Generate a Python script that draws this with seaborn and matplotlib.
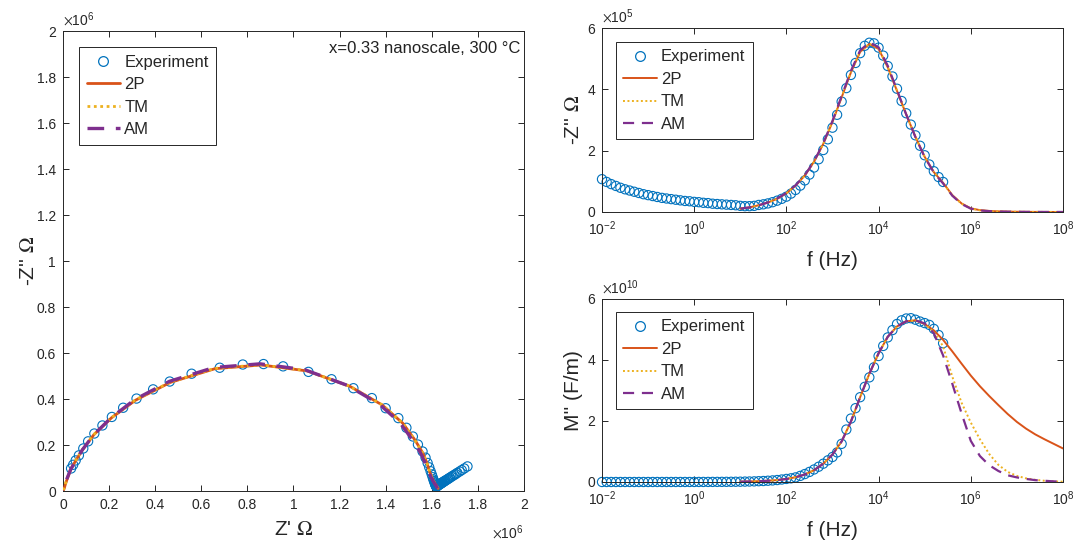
import matplotlib
matplotlib.use("Agg")
import matplotlib.pyplot as plt
import seaborn as sns
import pandas as pd
from matplotlib.lines import Line2D
from matplotlib.ticker import FuncFormatter, FixedLocator, NullLocator, LogFormatterMathtext

# ---------------- data ----------------
# measured frequencies (Hz)
freq_exp = [
    1.00e-2, 1.26e-2, 1.58e-2, 2.00e-2, 2.51e-2, 3.16e-2, 3.98e-2, 5.01e-2, 6.31e-2, 7.94e-2,
    1.00e-1, 1.26e-1, 1.58e-1, 2.00e-1, 2.51e-1, 3.16e-1, 3.98e-1, 5.01e-1, 6.31e-1, 7.94e-1,
    1.00e0, 1.26e0, 1.58e0, 2.00e0, 2.51e0, 3.16e0, 3.98e0, 5.01e0, 6.31e0, 7.94e0,
    1.00e1, 1.26e1, 1.58e1, 2.00e1, 2.51e1, 3.16e1, 3.98e1, 5.01e1, 6.31e1, 7.94e1,
    1.00e2, 1.26e2, 1.58e2, 2.00e2, 2.51e2, 3.16e2, 3.98e2, 5.01e2, 6.31e2, 7.94e2,
    1.00e3, 1.26e3, 1.58e3, 2.00e3, 2.51e3, 3.16e3, 3.98e3, 5.01e3, 6.31e3, 7.94e3,
    1.00e4, 1.26e4, 1.58e4, 2.00e4, 2.51e4, 3.16e4, 3.98e4, 5.01e4, 6.31e4, 7.94e4,
    1.00e5, 1.26e5, 1.58e5, 2.00e5, 2.51e5]
# Z' (MOhm)
zre_exp = [
    1.755, 1.741, 1.730, 1.721, 1.711, 1.704, 1.698, 1.691, 1.685, 1.679,
    1.674, 1.670, 1.665, 1.660, 1.657, 1.654, 1.651, 1.648, 1.645, 1.643,
    1.640, 1.639, 1.636, 1.634, 1.631, 1.629, 1.628, 1.626, 1.625, 1.623,
    1.622, 1.621, 1.620, 1.619, 1.618, 1.617, 1.615, 1.614, 1.612, 1.610,
    1.607, 1.604, 1.600, 1.595, 1.589, 1.582, 1.573, 1.560, 1.540, 1.518,
    1.490, 1.455, 1.400, 1.340, 1.260, 1.165, 1.065, 0.955, 0.870, 0.780,
    0.680, 0.558, 0.463, 0.391, 0.319, 0.261, 0.212, 0.171, 0.136, 0.109,
    0.088, 0.069, 0.055, 0.044, 0.035]
# -Z'' (MOhm)
zim_exp = [
    0.107, 0.098, 0.091, 0.085, 0.079, 0.074, 0.070, 0.066, 0.062, 0.058,
    0.055, 0.052, 0.049, 0.046, 0.044, 0.042, 0.040, 0.038, 0.036, 0.035,
    0.033, 0.032, 0.030, 0.029, 0.027, 0.026, 0.025, 0.024, 0.023, 0.022,
    0.020, 0.019, 0.019, 0.020, 0.023, 0.025, 0.028, 0.032, 0.037, 0.043,
    0.050, 0.060, 0.072, 0.086, 0.103, 0.122, 0.145, 0.172, 0.202, 0.237,
    0.275, 0.317, 0.360, 0.404, 0.447, 0.486, 0.518, 0.542, 0.552, 0.550,
    0.536, 0.510, 0.476, 0.442, 0.402, 0.362, 0.322, 0.285, 0.250, 0.216,
    0.185, 0.155, 0.133, 0.114, 0.098]
# M'' (1e10 F/m)
mim_exp = [
    0.0000, 0.0000, 0.0000, 0.0000, 0.0000, 0.0000, 0.0000, 0.0000, 0.0000, 0.0000,
    0.0001, 0.0001, 0.0002, 0.0002, 0.0003, 0.0003, 0.0004, 0.0005, 0.0007, 0.0008,
    0.0010, 0.0013, 0.0016, 0.0021, 0.0026, 0.0032, 0.0041, 0.0051, 0.0065, 0.0081,
    0.010, 0.013, 0.016, 0.020, 0.026, 0.032, 0.041, 0.051, 0.064, 0.081,
    0.10, 0.12, 0.15, 0.20, 0.26, 0.33, 0.41, 0.50, 0.60, 0.71,
    0.82, 0.97, 1.25, 1.72, 2.08, 2.42, 2.78, 3.12, 3.43, 3.76,
    4.13, 4.46, 4.74, 4.98, 5.18, 5.30, 5.36, 5.37, 5.32, 5.26,
    5.21, 5.15, 5.02, 4.82, 4.55]

# model frequencies (Hz)
freq_fit = [
    1.00e1, 1.58e1, 2.51e1, 3.98e1, 6.31e1,
    1.00e2, 1.58e2, 2.51e2, 3.98e2, 6.31e2,
    1.00e3, 1.58e3, 2.51e3, 3.98e3, 6.31e3,
    1.00e4, 1.58e4, 2.51e4, 3.98e4, 6.31e4,
    1.00e5, 1.58e5, 2.51e5, 3.98e5, 6.31e5,
    1.00e6, 1.58e6, 2.51e6, 3.98e6, 6.31e6,
    1.00e7, 1.58e7, 2.51e7, 3.98e7, 6.31e7, 1.00e8]

zre_2p = [1.628, 1.625, 1.621, 1.615, 1.608, 1.600, 1.590, 1.580, 1.562, 1.527,
          1.475, 1.385, 1.245, 1.060, 0.860, 0.660, 0.465, 0.315, 0.210, 0.134,
          0.085, 0.054, 0.034, 0.019, 0.010, 0.0055, 0.0033, 0.0022, 0.0015, 0.0010,
          0.0007, 0.0005, 0.0003, 0.0002, 0.0001, 0.0000]
zim_2p = [0.011, 0.015, 0.022, 0.031, 0.043, 0.061, 0.086, 0.119, 0.164, 0.222,
          0.294, 0.374, 0.455, 0.522, 0.548, 0.532, 0.472, 0.395, 0.318, 0.245,
          0.180, 0.130, 0.095, 0.055, 0.028, 0.012, 0.0060, 0.0035, 0.0020, 0.0012,
          0.0008, 0.0005, 0.0003, 0.0002, 0.0001, 0.0001]
mim_2p = [0.010, 0.016, 0.026, 0.040, 0.062, 0.098, 0.155, 0.245, 0.385, 0.60,
          0.90, 1.33, 1.98, 2.78, 3.55, 4.22, 4.76, 5.10, 5.27, 5.30,
          5.18, 4.97, 4.66, 4.28, 3.88, 3.49, 3.14, 2.82, 2.52, 2.23,
          1.97, 1.75, 1.56, 1.40, 1.25, 1.10]

zre_tm = [1.628, 1.625, 1.621, 1.615, 1.608, 1.600, 1.591, 1.580, 1.561, 1.526,
          1.474, 1.384, 1.244, 1.058, 0.858, 0.658, 0.464, 0.314, 0.209, 0.133,
          0.084, 0.053, 0.033, 0.018, 0.009, 0.0040, 0.0020, 0.0010, 0.0005, 0.0003,
          0.0002, 0.0001, 0.0001, 0.0000, 0.0000, 0.0000]
zim_tm = [0.011, 0.015, 0.022, 0.031, 0.043, 0.061, 0.086, 0.119, 0.164, 0.222,
          0.295, 0.375, 0.456, 0.523, 0.549, 0.533, 0.473, 0.396, 0.318, 0.245,
          0.180, 0.130, 0.094, 0.054, 0.027, 0.011, 0.0055, 0.0030, 0.0018, 0.0011,
          0.0007, 0.0004, 0.0003, 0.0002, 0.0001, 0.0001]
mim_tm = [0.010, 0.016, 0.026, 0.040, 0.062, 0.098, 0.155, 0.245, 0.385, 0.60,
          0.90, 1.33, 1.98, 2.78, 3.55, 4.22, 4.76, 5.10, 5.27, 5.30,
          5.18, 4.92, 4.45, 3.45, 2.60, 1.95, 1.40, 0.92, 0.56, 0.33,
          0.20, 0.12, 0.07, 0.04, 0.02, 0.01]

zre_am = [1.626, 1.623, 1.619, 1.613, 1.605, 1.596, 1.585, 1.572, 1.552, 1.515,
          1.462, 1.372, 1.232, 1.050, 0.855, 0.655, 0.462, 0.312, 0.208, 0.133,
          0.084, 0.053, 0.033, 0.017, 0.008, 0.0035, 0.0018, 0.0009, 0.0005, 0.0003,
          0.0002, 0.0001, 0.0001, 0.0000, 0.0000, 0.0000]
zim_am = [0.011, 0.015, 0.022, 0.031, 0.044, 0.062, 0.087, 0.120, 0.165, 0.224,
          0.297, 0.378, 0.460, 0.527, 0.553, 0.537, 0.477, 0.398, 0.318, 0.244,
          0.179, 0.129, 0.093, 0.053, 0.026, 0.011, 0.0050, 0.0028, 0.0016, 0.0010,
          0.0006, 0.0004, 0.0002, 0.0001, 0.0001, 0.0001]
mim_am = [0.010, 0.016, 0.026, 0.040, 0.062, 0.098, 0.155, 0.245, 0.385, 0.60,
          0.90, 1.33, 1.98, 2.78, 3.55, 4.22, 4.76, 5.10, 5.27, 5.30,
          5.20, 4.88, 4.15, 3.22, 2.25, 1.35, 0.85, 0.55, 0.36, 0.22,
          0.15, 0.10, 0.06, 0.04, 0.02, 0.01]

series_names = ["Experiment", "2P", "TM", "AM"]
annotation = "x=0.33 nanoscale, 300 °C"

# ---------------- styling ----------------
sns.set_style("ticks")
plt.rcParams["font.family"] = ["Liberation Sans", "DejaVu Sans"]
plt.rcParams["mathtext.fontset"] = "stix"

C_EXP = "#0072BD"
C_2P = "#D95319"
C_TM = "#EDB120"
C_AM = "#7E2F8E"
AXC = "#262626"

exp_df = pd.DataFrame({"f": freq_exp, "zre": [v * 1e6 for v in zre_exp],
                       "zim": [v * 1e6 for v in zim_exp], "mim": [v * 1e10 for v in mim_exp]})
fits = {
    "2P": pd.DataFrame({"f": freq_fit, "zre": [v * 1e6 for v in zre_2p],
                        "zim": [v * 1e6 for v in zim_2p], "mim": [v * 1e10 for v in mim_2p]}),
    "TM": pd.DataFrame({"f": freq_fit, "zre": [v * 1e6 for v in zre_tm],
                        "zim": [v * 1e6 for v in zim_tm], "mim": [v * 1e10 for v in mim_tm]}),
    "AM": pd.DataFrame({"f": freq_fit, "zre": [v * 1e6 for v in zre_am],
                        "zim": [v * 1e6 for v in zim_am], "mim": [v * 1e10 for v in mim_am]}),
}


def fit_styles(big):
    lw = 2.0 if big else 1.4
    return {
        "2P": dict(color=C_2P, lw=lw, ls="-"),
        "TM": dict(color=C_TM, lw=lw, ls=(0, (1.0, 1.3))),
        "AM": dict(color=C_AM, lw=lw + 0.4 if big else lw + 0.2, ls=(0, (5, 3.5))),
    }


fig = plt.figure(figsize=(10.75, 5.44), dpi=100)
ax_n = fig.add_axes([0.0586, 0.0974, 0.4288, 0.8456])
ax_z = fig.add_axes([0.560, 0.6103, 0.4288, 0.3382])
ax_m = fig.add_axes([0.560, 0.1140, 0.4288, 0.3364])


def draw(ax, xcol, ycol, big):
    sns.scatterplot(data=exp_df, x=xcol, y=ycol, ax=ax, marker="o", s=44,
                    facecolor="none", edgecolor=C_EXP, linewidth=0.8, legend=False,
                    zorder=2, clip_on=False)
    st = fit_styles(big)
    for name in ["2P", "TM", "AM"]:
        sns.lineplot(data=fits[name], x=xcol, y=ycol, ax=ax, sort=False, estimator=None,
                     color=st[name]["color"], lw=st[name]["lw"], linestyle=st[name]["ls"],
                     legend=False, zorder=3)
    handles = [Line2D([], [], ls="none", marker="o", mfc="none", mec=C_EXP, mew=0.9, ms=7)]
    for name in ["2P", "TM", "AM"]:
        handles.append(Line2D([], [], color=st[name]["color"], lw=st[name]["lw"], ls=st[name]["ls"]))
    return handles


def style_axes(ax, fs=10):
    for sp in ax.spines.values():
        sp.set_visible(True)
        sp.set_color(AXC)
        sp.set_linewidth(0.7)
    ax.tick_params(which="both", direction="in", top=True, right=True, length=4,
                   width=0.7, color=AXC, labelcolor=AXC, labelsize=fs, pad=5)
    ax.set_facecolor("white")


def add_legend(ax, handles, x, y):
    leg = ax.legend(handles, series_names, loc="upper left", bbox_to_anchor=(x, y),
                    borderaxespad=0, frameon=True, fancybox=False, framealpha=1,
                    edgecolor=AXC, fontsize=12, handlelength=2.0, handletextpad=0.25,
                    labelspacing=0.45, borderpad=0.45)
    leg.get_frame().set_linewidth(0.7)
    leg.set_zorder(10)


# ---- Nyquist ----
h = draw(ax_n, "zre", "zim", True)
style_axes(ax_n)
ax_n.set_xlim(0, 2e6)
ax_n.set_ylim(0, 2e6)
ticks = [i * 0.2e6 for i in range(11)]
ax_n.xaxis.set_major_locator(FixedLocator(ticks))
ax_n.yaxis.set_major_locator(FixedLocator(ticks))
fmt6 = FuncFormatter(lambda v, p: f"{v / 1e6:g}")
ax_n.xaxis.set_major_formatter(fmt6)
ax_n.yaxis.set_major_formatter(fmt6)
ax_n.set_xlabel(r"Z' $\Omega$", fontsize=15, color=AXC, labelpad=6)
ax_n.set_ylabel(r"-Z'' $\Omega$", fontsize=15, color=AXC, labelpad=-1)
ax_n.text(0.0, 1.005, r"$\times\mathdefault{10^{6}}$", transform=ax_n.transAxes,
          ha="left", va="bottom", fontsize=10, color=AXC)
ax_n.text(1.0, -0.072, r"$\times\mathdefault{10^{6}}$", transform=ax_n.transAxes,
          ha="right", va="top", fontsize=10, color=AXC)
ax_n.text(0.993, 0.962, annotation, transform=ax_n.transAxes, ha="right", va="center",
          fontsize=12, color="#222222")
add_legend(ax_n, h, 0.035, 0.965)

# ---- -Z'' and M'' vs f ----
for ax, ycol, ymax, exp10, fmt_scale, ylabel, legy in [
        (ax_z, "zim", 6e5, 5, 1e5, r"-Z'' $\Omega$", 0.924),
        (ax_m, "mim", 6e10, 10, 1e10, "M'' (F/m)", 0.929)]:
    h = draw(ax, "f", ycol, False)
    style_axes(ax)
    ax.set_xscale("log")
    ax.set_xlim(1e-2, 1e8)
    ax.set_ylim(0, ymax)
    ax.xaxis.set_major_locator(FixedLocator([1e-2, 1e0, 1e2, 1e4, 1e6, 1e8]))
    ax.xaxis.set_minor_locator(NullLocator())
    ax.xaxis.set_major_formatter(LogFormatterMathtext())
    ax.yaxis.set_major_locator(FixedLocator([0, ymax / 3, 2 * ymax / 3, ymax]))
    ax.yaxis.set_major_formatter(FuncFormatter(lambda v, p, s=fmt_scale: f"{v / s:g}"))
    ax.set_xlabel("f (Hz)", fontsize=15, color=AXC, labelpad=10)
    ax.set_ylabel(ylabel, fontsize=15, color=AXC, labelpad=3)
    ax.text(0.0, 1.01, r"$\times\mathdefault{10^{%d}}$" % exp10, transform=ax.transAxes,
            ha="left", va="bottom", fontsize=10, color=AXC)
    add_legend(ax, h, 0.030, legy)

fig.savefig("out.png", dpi=100, facecolor="white")
